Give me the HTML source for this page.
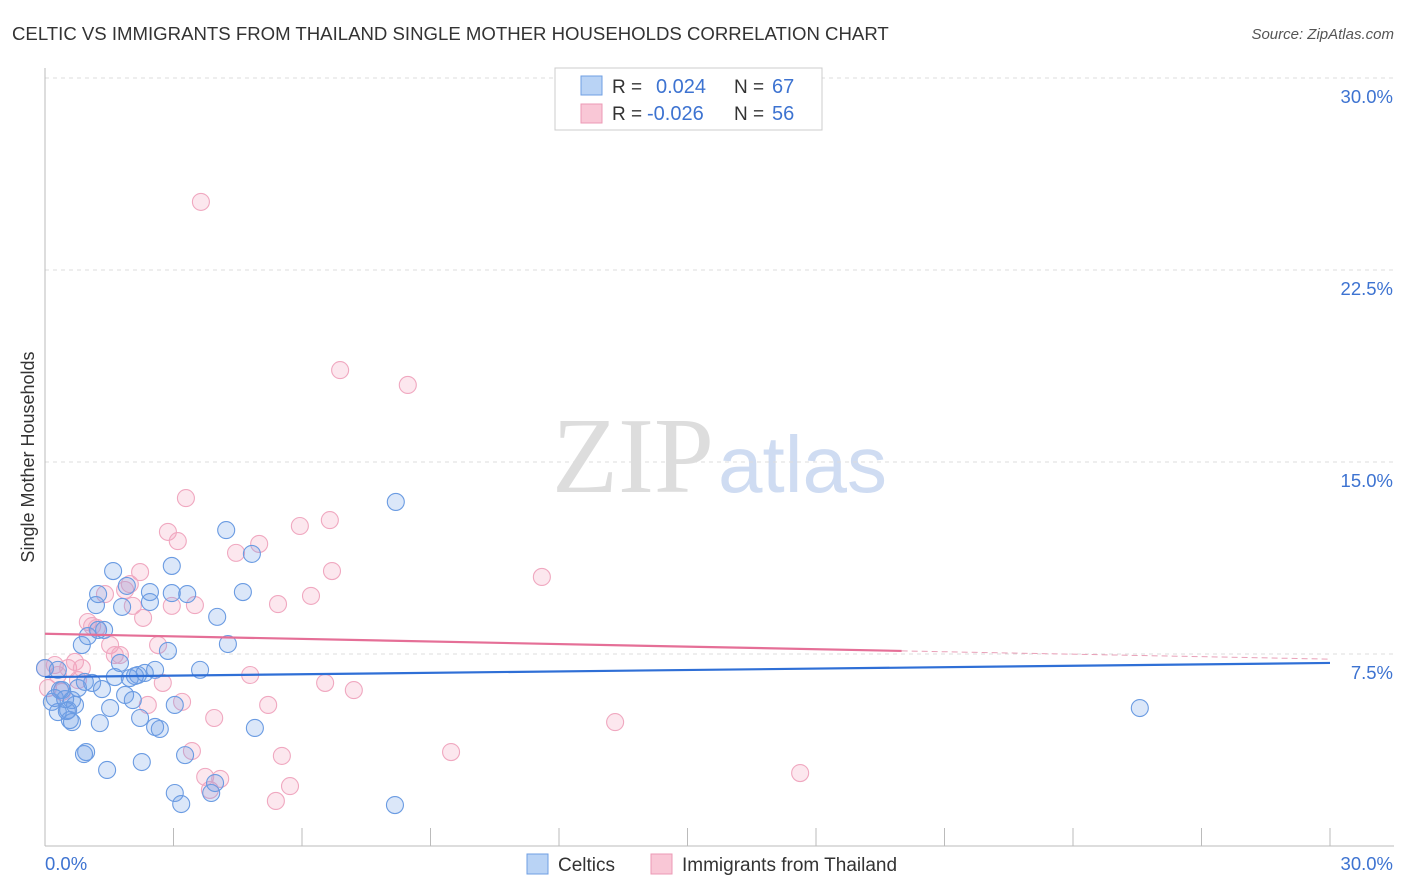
<!DOCTYPE html>
<html><head><meta charset="utf-8">
<style>
body{margin:0;background:#fff;font-family:"Liberation Sans",sans-serif;}
#wrap{position:relative;width:1406px;height:892px;overflow:hidden;}
</style></head>
<body>
<div id="wrap">
<svg id="svg" width="1406" height="892" xmlns="http://www.w3.org/2000/svg">
<text x="12" y="40" font-size="18.6" fill="#333">CELTIC VS IMMIGRANTS FROM THAILAND SINGLE MOTHER HOUSEHOLDS CORRELATION CHART</text>
<text x="1394" y="39" font-size="15" fill="#555" font-style="italic" text-anchor="end">Source: ZipAtlas.com</text>
<text x="34" y="457" font-size="18" fill="#333" text-anchor="middle" transform="rotate(-90 34 457)">Single Mother Households</text>
<text x="552" y="492" font-size="108" fill="#ddd" font-family="Liberation Serif">ZIP</text>
<text x="718" y="492" font-size="80" fill="#cfdcf2">atlas</text>
<g id="grid"></g>
<g id="pts"></g>
<g id="lines"></g>
<g>
<rect x="555" y="68" width="267" height="62" fill="#fff" stroke="#ccc"/>
<rect x="581" y="76" width="21" height="19" fill="#b9d3f5" stroke="#6f9fe3"/>
<rect x="581" y="104" width="21" height="19" fill="#f9c7d6" stroke="#ec9ab5"/>
<text x="612" y="93" font-size="19" fill="#333">R = </text><text x="656" y="93" font-size="20" fill="#3d73d1">0.024</text>
<text x="734" y="93" font-size="19" fill="#333">N = </text><text x="772" y="93" font-size="20" fill="#3d73d1">67</text>
<text x="612" y="120" font-size="19" fill="#333">R = </text><text x="647" y="120" font-size="20" fill="#3d73d1">-0.026</text>
<text x="734" y="120" font-size="19" fill="#333">N = </text><text x="772" y="120" font-size="20" fill="#3d73d1">56</text>
</g>
<g>
<rect x="527" y="854" width="21" height="20" fill="#b9d3f5" stroke="#6f9fe3"/>
<text x="558" y="871" font-size="19" fill="#333">Celtics</text>
<rect x="651" y="854" width="21" height="20" fill="#f9c7d6" stroke="#ec9ab5"/>
<text x="682" y="871" font-size="19" fill="#333">Immigrants from Thailand</text>
</g>
</svg>
</div>
<script>
const yTicks=[7.5,15,22.5,30];
const yTickLabels=["7.5%","15.0%","22.5%","30.0%"];
const xTickCount=10;
const blueX=[0.00,0.16,0.30,0.40,0.54,0.58,0.63,0.70,0.77,0.86,1.00,1.10,1.19,1.24,1.28,1.33,1.38,1.45,1.52,1.59,1.63,1.75,1.80,1.87,1.91,1.98,2.05,2.17,2.22,2.26,2.33,2.45,2.45,2.57,2.57,2.68,2.87,2.96,2.96,3.03,3.03,3.18,3.27,3.32,3.62,3.88,3.97,4.02,4.23,4.27,4.62,4.83,4.90,8.19,8.17,25.56,0.30,0.35,0.23,0.93,0.96,0.91,0.51,1.24,2.10,0.47,0.63];
const blueY=[6.95,5.63,5.23,6.09,5.31,4.92,5.70,5.51,6.17,7.85,8.20,6.37,9.41,9.84,4.80,6.13,8.44,2.97,5.39,10.74,6.60,7.15,9.34,5.90,10.16,6.56,5.70,6.68,5.00,3.28,6.76,9.92,9.53,4.65,6.88,4.57,7.62,10.94,9.88,5.51,2.07,1.64,3.55,9.84,6.88,2.07,2.46,8.95,12.34,7.89,9.92,11.41,4.61,13.44,1.60,5.39,6.88,6.09,5.78,6.41,3.67,3.59,5.27,8.44,6.64,5.74,4.84];
const pinkX=[0.07,0.23,0.30,0.40,0.54,0.70,0.77,0.86,1.00,1.10,1.21,1.40,1.52,1.63,1.75,1.87,1.98,2.05,2.22,2.29,2.40,2.64,2.75,2.87,3.10,2.96,3.20,3.29,3.43,3.50,3.64,3.74,3.85,3.95,4.09,4.46,4.79,5.00,5.21,5.44,5.53,5.72,5.95,6.21,6.54,6.65,6.70,6.89,7.21,8.47,9.48,11.60,13.31,17.63,5.39,0.00];
const pinkY=[6.17,7.07,6.68,6.02,6.95,7.19,6.48,6.95,8.75,8.59,8.52,9.84,7.85,7.46,7.46,10.00,10.23,9.38,10.70,8.91,5.51,7.85,6.37,12.27,11.91,9.38,5.63,13.59,3.71,9.41,25.16,2.70,2.19,5.00,2.62,11.45,6.68,11.80,5.51,9.45,3.52,2.34,12.50,9.77,6.37,12.73,10.74,18.59,6.09,18.01,3.67,10.51,4.84,2.85,1.76,6.95];
const blueTrend=[6.60,7.15];
const pinkTrend=[8.29,7.62,7.30];
const pinkSolidEnd=20;
const NS="http://www.w3.org/2000/svg";
const X=v=>45+v/30*1285, Y=v=>846-v/7.5*192;
function mk(tag,attrs,parent){const e=document.createElementNS(NS,tag);for(const k in attrs)e.setAttribute(k,attrs[k]);parent.appendChild(e);return e;}
const grid=document.getElementById('grid');
yTicks.forEach((t,i)=>{
 const l=mk('line',{x1:45,x2:1394,y1:Y(t),y2:Y(t),stroke:'#ddd','stroke-dasharray':'4,4'},grid);
 
 
 const tx=mk('text',{x:1393,y:Y(t)+25,'font-size':18.5,fill:'#3d73d1','text-anchor':'end'},grid);
 tx.textContent=yTickLabels[i];
 
 
});
const ax=mk('line',{x1:45,x2:1394,y1:846,y2:846,stroke:'#bbb'},grid);


const ay=mk('line',{x1:45,x2:45,y1:68,y2:846,stroke:'#bbb'},grid);


for(let i=0;i<=xTickCount;i++){
 const v=i*30/xTickCount;
 const t=mk('line',{x1:X(v),x2:X(v),y1:828,y2:846,stroke:'#bbb'},grid);
 
 
}
const xl0=mk('text',{x:45,y:870,'font-size':18.5,fill:'#3d73d1'},grid);xl0.textContent='0.0%';


const xl1=mk('text',{x:1393,y:870,'font-size':18.5,fill:'#3d73d1','text-anchor':'end'},grid);xl1.textContent='30.0%';


const pts=document.getElementById('pts');
pinkX.forEach((x,i)=>{
 const c=mk('circle',{cx:X(x),cy:Y(pinkY[i]),r:8.5,fill:'rgba(242,160,188,0.25)',stroke:'#f0a8c0','stroke-width':1.1},pts);
 
 
});
blueX.forEach((x,i)=>{
 const c=mk('circle',{cx:X(x),cy:Y(blueY[i]),r:8.5,fill:'rgba(110,160,230,0.25)',stroke:'#6a9be2','stroke-width':1.1},pts);
 
 
});
const lines=document.getElementById('lines');
const bl=mk('line',{x1:X(0),y1:Y(blueTrend[0]),x2:X(30),y2:Y(blueTrend[1]),stroke:'#2f6fd6','stroke-width':2.2},lines);


const pl=mk('line',{x1:X(0),y1:Y(pinkTrend[0]),x2:X(pinkSolidEnd),y2:Y(pinkTrend[1]),stroke:'#e56f97','stroke-width':2.2},lines);


const pd=mk('line',{x1:X(pinkSolidEnd),y1:Y(pinkTrend[1]),x2:X(30),y2:Y(pinkTrend[2]),stroke:'#e9a0b8','stroke-width':1,'stroke-dasharray':'6,4'},lines);


</script>
</body></html>
